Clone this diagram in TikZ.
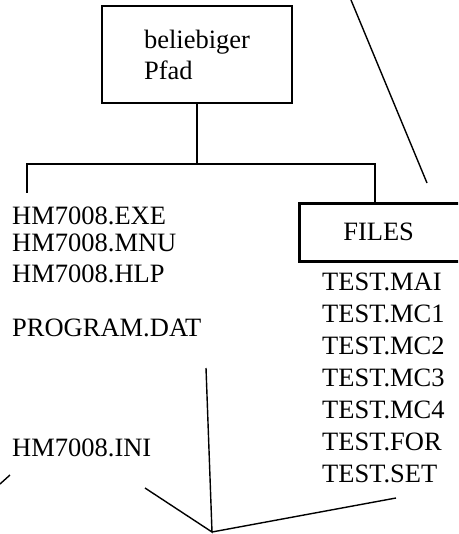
\documentclass[tikz,border=0pt]{standalone}
\usepackage{fontspec}
\setmainfont{Liberation Serif}
\usetikzlibrary{positioning}

\begin{document}
\begin{tikzpicture}[x=1pt, y=-1pt, every node/.style={font=\fontsize{26.5}{31}\selectfont, inner sep=0pt}, box/.style={draw,line width=2.6pt}, fname/.style={anchor=base west}, lnk/.style={line width=2.2pt}, ray/.style={line width=1.4pt}]
\useasboundingbox (0,0) rectangle (458,534);
\clip (0,0) rectangle (458,534);
\node[box,minimum width=190pt,minimum height=97pt,align=left] (pfad) at (197,54.5) {beliebiger\\Pfad};
\node[box,anchor=north west,minimum height=58pt,text width=130pt,inner xsep=44pt,align=left] (files) at (298,202) {FILES};
\coordinate (barL) at (27,164);
\coordinate (barR) at (375,164);
\coordinate (dropL) at (27,193);
\draw[lnk] (pfad.south) -- (pfad.south |- barL);
\draw[lnk] (dropL) -- (barL) -- (barR) -- (barR |- files.north);
% Dateien im Pfad
\node[fname] (exe) at (12,225) {HM7008.EXE};
\node[fname] (mnu) at (12,251) {HM7008.MNU};
\node[fname] (hlp) at (12,282) {HM7008.HLP};
\node[fname] (dat) at (12,336) {PROGRAM.DAT};
\node[fname] (ini) at (12,456) {HM7008.INI};
% Dateien in FILES
\foreach \f [count=\i from 0] in {MAI,MC1,MC2,MC3,MC4,FOR,SET}
  \node[fname] (t\f) at (322,{290+32*\i}) {TEST.\f};
% Hinweislinien
\coordinate (apex) at (212,532);
\coordinate (rA) at (206,368);
\coordinate (rB) at (145,488);
\coordinate (rC) at (396,498);
\coordinate (d1) at (351,0);
\coordinate (d2) at (427,183);
\coordinate (s1) at (0,484);
\coordinate (s2) at (10,475);
\draw[ray] (rA) -- (apex) -- (rB);
\draw[ray] (apex) -- (rC);
\draw[ray] (d1) -- (d2);
\draw[ray] (s1) -- (s2);
\end{tikzpicture}
\end{document}
